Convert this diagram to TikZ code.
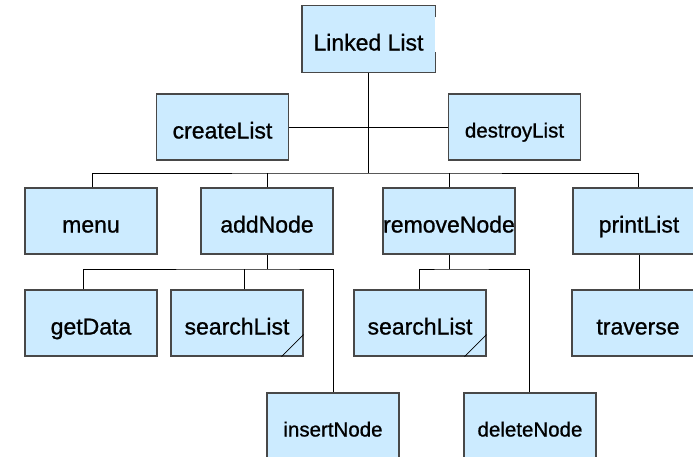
\documentclass[tikz,border=0pt]{standalone}
\usepackage{fontspec}
\setmainfont{Liberation Sans}
\newfontfamily\boxfont[FakeBold=0.9]{Liberation Sans}
\definecolor{boxfill}{RGB}{204,235,255}
\definecolor{boxline}{RGB}{72,72,72}
\begin{document}
\begin{tikzpicture}[x=1pt,y=-1pt,
  fn/.style={minimum width=132pt,minimum height=66pt,inner sep=0pt,
    fill=boxfill,draw=boxline,line width=1.1pt,
    font=\boxfont\fontsize{23}{23}\selectfont,text height=23pt,text depth=0pt},
  fnsmall/.style={fn,font=\boxfont\fontsize{20.5}{21}\selectfont,text height=21pt},
  link/.style={draw=black,line width=0.9pt},
  fold/.style={draw=black,line width=0.8pt}]
\useasboundingbox (0,0) rectangle (693,456);
\clip (0,0) rectangle (693,456);
\fill[white] (0,0) rectangle (693,456);

% root module, drawn with an open right edge
\node[fn,draw=none] (LL) at (368.5,39) {Linked List};
\draw[boxline,line width=1.1pt] ([yshift=-12pt]LL.north east) -- (LL.north east)
  -- (LL.north west) -- (LL.south west) -- (LL.south east) -- ([yshift=21pt]LL.south east);

% list lifetime
\node[fn] (CL) at (222.5,127) {createList};
\node[fnsmall] (DL) at (514.5,127) {destroyList};

% main operations
\node[fn] (menu) at (91,221) {menu};
\node[fn] (add) at (267,221) {addNode};
\node[fn] (rem) at (449,221) {removeNode};
\node[fn] (print) at (639,221) {printList};

% helpers
\node[fn] (get) at (91,323) {getData};
\node[fn] (sl1) at (237,323) {searchList};
\node[fn] (sl2) at (420,323) {searchList};
\node[fn] (trav) at (638,323) {traverse};
\node[fnsmall] (ins) at (333,426) {insertNode};
\node[fnsmall] (del) at (530,426) {deleteNode};

% folded corner on the shared search routine
\draw[fold] ([yshift=22pt]sl1.south east) -- ([xshift=-22pt]sl1.south east);
\draw[fold] ([yshift=22pt]sl2.south east) -- ([xshift=-22pt]sl2.south east);

% connectors
\coordinate (b1) at (368.5,173);
\coordinate (b2) at (267,269);
\coordinate (b3) at (449,269);

\draw[link] (LL.south) -- (b1);
\draw[link] (CL.east) -- (DL.west);
\draw[link] ([xshift=1pt]menu.north) |- (b1) -| ([xshift=-1pt]print.north);
\draw[link] (add.north) -- (add.north |- b1);
\draw[link] (rem.north) -- (rem.north |- b1);

\draw[link] (add.south) -- (b2);
\draw[link] ([xshift=-8pt]get.north) |- (b2) -| (ins.north);
\draw[link] ([xshift=7pt]sl1.north) -- ([xshift=7pt]sl1.north |- b2);

\draw[link] (rem.south) -- (b3);
\draw[link] ([xshift=-1pt]sl2.north) |- (b3) -| ([xshift=-1pt]del.north);

\draw[link] (print.south) -- ([xshift=1pt]trav.north);
\end{tikzpicture}
\end{document}
